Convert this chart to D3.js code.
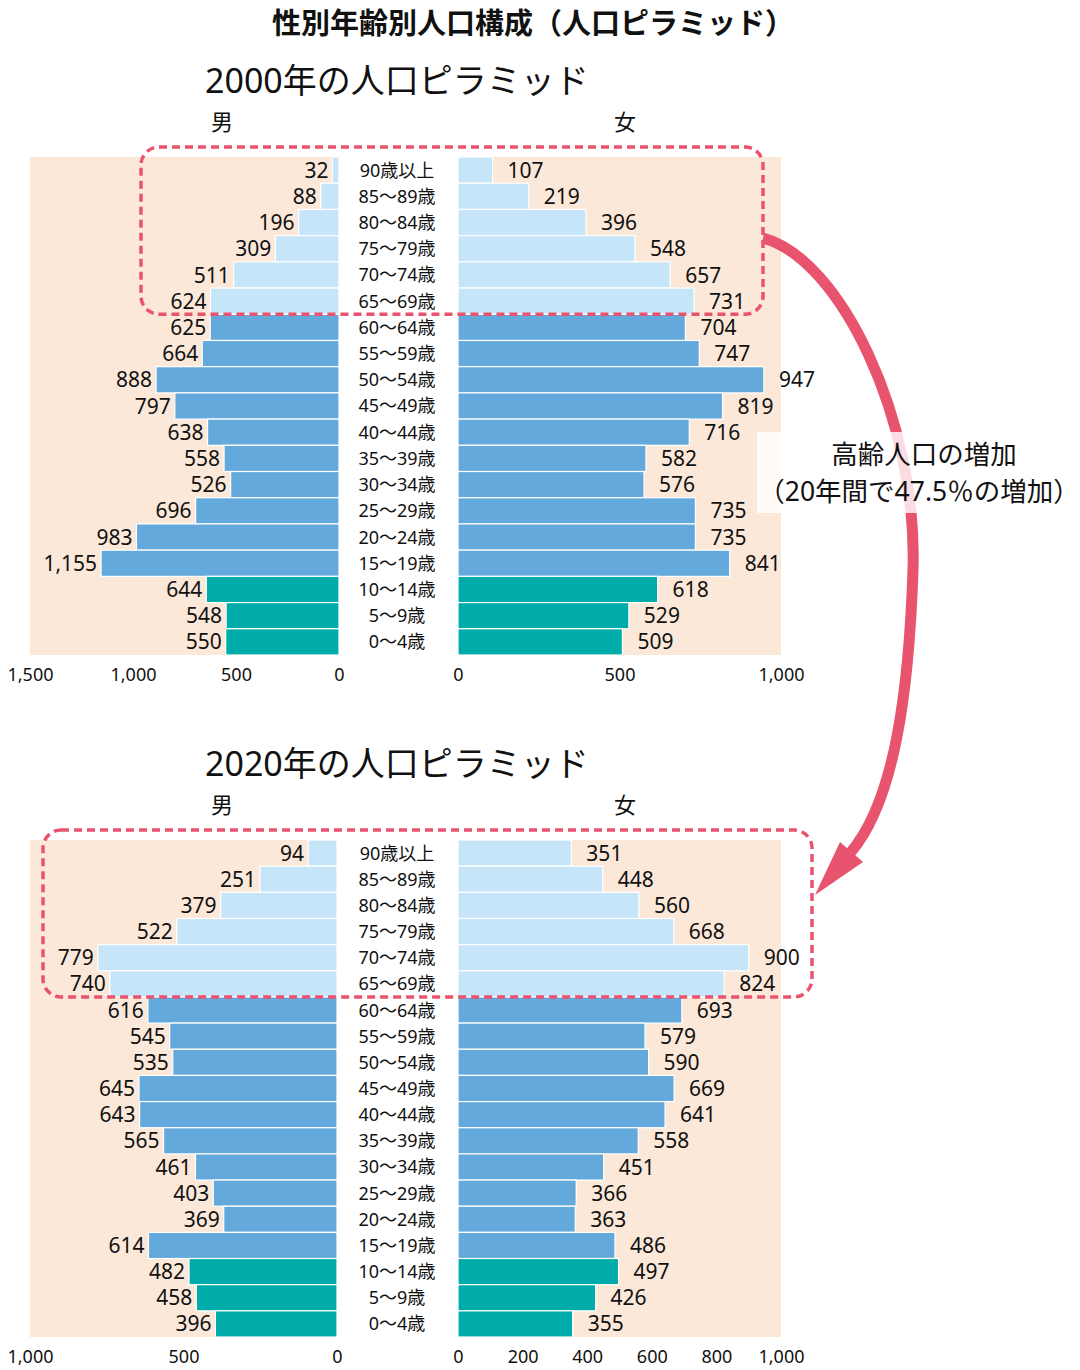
<!DOCTYPE html>
<html>
<head>
<meta charset="utf-8">
<script src="https://cdn.jsdelivr.net/npm/d3@7"></script>
<style>
  body { margin: 0; background: #fff; }
  text { font-family: "Noto Sans", "Noto Sans CJK JP", sans-serif; fill: #111; }
</style>
</head>
<body>
<div id="chart"></div>
<script>
// age groups, top row first
const ageGroups = ["90歳以上", "85～89歳", "80～84歳", "75～79歳", "70～74歳", "65～69歳",
  "60～64歳", "55～59歳", "50～54歳", "45～49歳", "40～44歳", "35～39歳", "30～34歳",
  "25～29歳", "20～24歳", "15～19歳", "10～14歳", "5～9歳", "0～4歳"]

const male2000 = [32, 88, 196, 309, 511, 624, 625, 664, 888, 797, 638, 558, 526, 696, 983, 1155, 644, 548, 550]
const female2000 = [107, 219, 396, 548, 657, 731, 704, 747, 947, 819, 716, 582, 576, 735, 735, 841, 618, 529, 509]
const male2020 = [94, 251, 379, 522, 779, 740, 616, 545, 535, 645, 643, 565, 461, 403, 369, 614, 482, 458, 396]
const female2020 = [351, 448, 560, 668, 900, 824, 693, 579, 590, 669, 641, 558, 451, 366, 363, 486, 497, 426, 355]

const maleTicks2000 = [0, 500, 1000, 1500]
const femaleTicks2000 = [0, 500, 1000]
const maleTicks2020 = [0, 500, 1000]
const femaleTicks2020 = [0, 200, 400, 600, 800, 1000]

const width = 1080, height = 1370

const svg = d3.select("#chart")
  .append("svg")
  .attr("width", width)
  .attr("height", height)

function barColor(i) {
  if (i < 6) return "#c6e5f8"      // 65+
  if (i < 16) return "#63a9db"     // 15-64
  return "#00aca9"                 // 0-14
}

function drawPyramid(opt) {
  const g = svg.append("g")

  const y = d3.scaleBand().domain(ageGroups).range([opt.top, opt.bottom]).padding(0)
  const xm = d3.scaleLinear().domain([0, opt.maleMax]).range([opt.maleZero, 30])
  const xf = d3.scaleLinear().domain([0, 1000]).range([458, 781])

  // title + sex labels
  g.append("text")
    .attr("x", 205).attr("y", opt.top - 64)
    .style("font-size", "34px")
    .text(opt.title)
  g.append("text")
    .attr("x", 222).attr("y", opt.top - 27)
    .attr("text-anchor", "middle")
    .style("font-size", "22px")
    .text("男")
  g.append("text")
    .attr("x", 625).attr("y", opt.top - 27)
    .attr("text-anchor", "middle")
    .style("font-size", "22px")
    .text("女")

  // backgrounds
  g.append("rect")
    .attr("x", xm(opt.maleMax)).attr("y", opt.top)
    .attr("width", xm(0) - xm(opt.maleMax)).attr("height", opt.bottom - opt.top)
    .style("fill", "#fbe8d9")
  g.append("rect")
    .attr("x", xf(0)).attr("y", opt.top)
    .attr("width", xf(1000) - xf(0)).attr("height", opt.bottom - opt.top)
    .style("fill", "#fbe8d9")

  // male bars
  g.selectAll(".mbar")
    .data(opt.male)
    .enter().append("rect")
    .attr("x", d => xm(d))
    .attr("y", (d, i) => y(ageGroups[i]))
    .attr("width", d => xm(0) - xm(d))
    .attr("height", y.bandwidth())
    .style("fill", (d, i) => barColor(i))
    .style("stroke", "#fff")
    .style("stroke-width", 1.2)

  // female bars
  g.selectAll(".fbar")
    .data(opt.female)
    .enter().append("rect")
    .attr("x", xf(0))
    .attr("y", (d, i) => y(ageGroups[i]))
    .attr("width", d => xf(d) - xf(0))
    .attr("height", y.bandwidth())
    .style("fill", (d, i) => barColor(i))
    .style("stroke", "#fff")
    .style("stroke-width", 1.2)

  const fmt = d3.format(",")

  // value labels
  g.selectAll(".mval")
    .data(opt.male)
    .enter().append("text")
    .attr("x", d => xm(d) - 4)
    .attr("y", (d, i) => y(ageGroups[i]) + y.bandwidth() / 2)
    .attr("dy", "0.36em")
    .attr("text-anchor", "end")
    .style("font-size", "21px")
    .text(d => fmt(d))
  g.selectAll(".fval")
    .data(opt.female)
    .enter().append("text")
    .attr("x", d => xf(d) + 15)
    .attr("y", (d, i) => y(ageGroups[i]) + y.bandwidth() / 2)
    .attr("dy", "0.36em")
    .style("font-size", "21px")
    .text(d => fmt(d))

  // age labels
  g.selectAll(".age")
    .data(ageGroups)
    .enter().append("text")
    .attr("x", 397)
    .attr("y", d => y(d) + y.bandwidth() / 2)
    .attr("dy", "0.36em")
    .attr("text-anchor", "middle")
    .style("font-size", "18px")
    .text(d => d)

  // axes
  const ax1 = g.append("g")
    .attr("transform", "translate(0," + opt.bottom + ")")
    .call(d3.axisBottom(xm).tickValues(opt.maleTicks).tickFormat(fmt).tickSize(0).tickPadding(13))
  const ax2 = g.append("g")
    .attr("transform", "translate(0," + opt.bottom + ")")
    .call(d3.axisBottom(xf).tickValues(opt.femaleTicks).tickFormat(fmt).tickSize(0).tickPadding(13))
  ;[ax1, ax2].forEach(a => {
    a.select(".domain").remove()
    a.selectAll("text")
      .style("font-size", "18px")
      .style("font-family", "'Noto Sans', 'Noto Sans CJK JP', sans-serif")
      .attr("fill", "#111")
  })

  // dashed highlight around 65+
  const y0 = y(ageGroups[0]) - 10
  const y1 = y(ageGroups[5]) + y.bandwidth()
  g.append("rect")
    .attr("x", opt.boxX0).attr("y", y0)
    .attr("width", opt.boxX1 - opt.boxX0).attr("height", y1 - y0)
    .attr("rx", 18).attr("ry", 18)
    .style("fill", "none")
    .style("stroke", "#e9536d")
    .style("stroke-width", 3.5)
    .style("stroke-dasharray", "8,5")
}

// main title
svg.append("text")
  .attr("x", 533).attr("y", 34)
  .attr("text-anchor", "middle")
  .style("font-size", "29px")
  .style("font-weight", "bold")
  .text("性別年齢別人口構成（人口ピラミッド）")

drawPyramid({
  title: "2000年の人口ピラミッド", top: 157, bottom: 655,
  male: male2000, female: female2000, maleMax: 1500, maleZero: 339,
  maleTicks: maleTicks2000, femaleTicks: femaleTicks2000,
  boxX0: 141, boxX1: 763
})

drawPyramid({
  title: "2020年の人口ピラミッド", top: 840, bottom: 1337,
  male: male2020, female: female2020, maleMax: 1000, maleZero: 337,
  maleTicks: maleTicks2020, femaleTicks: femaleTicks2020,
  boxX0: 43, boxX1: 812
})

// arrow
svg.append("path")
  .attr("d", "M763,238 C840,258 918,420 913,570 C909,690 895,800 851,852")
  .style("fill", "none")
  .style("stroke", "#e8536e")
  .style("stroke-width", 11)
svg.append("path")
  .attr("d", "M815,895 L840,842 L863,862 Z")
  .style("fill", "#e8536e")

// annotation
svg.append("rect")
  .attr("x", 757).attr("y", 432)
  .attr("width", 323).attr("height", 81)
  .style("fill", "#fff")
  .style("opacity", 0.8)
svg.append("text")
  .attr("x", 924).attr("y", 464)
  .attr("text-anchor", "middle")
  .style("font-size", "26.5px")
  .text("高齢人口の増加")
svg.append("text")
  .attr("x", 919).attr("y", 501)
  .attr("text-anchor", "middle")
  .style("font-size", "26.5px")
  .text("（20年間で47.5％の増加）")
</script>
</body>
</html>
